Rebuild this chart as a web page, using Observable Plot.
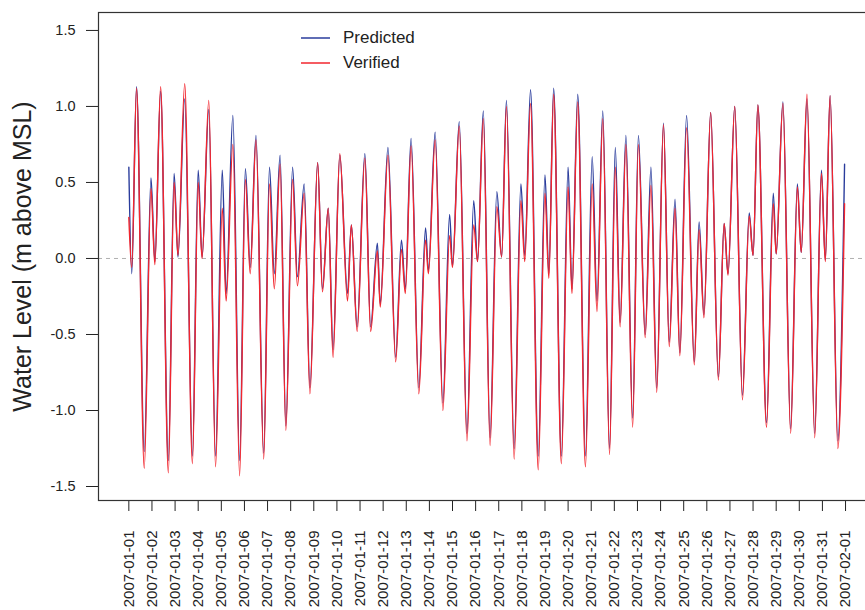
<!DOCTYPE html>
<html>
<head>
<meta charset="utf-8">
<script src="https://cdn.jsdelivr.net/npm/d3@7"></script>
<script src="https://cdn.jsdelivr.net/npm/@observablehq/plot@0.6"></script>
<style>
  html, body { margin: 0; padding: 0; background: #fff; overflow: hidden; }
  #wrap { position: relative; width: 865px; height: 610px; overflow: hidden; font-family: "Liberation Sans", Arial, sans-serif; }
  #chart svg { max-width: none !important; }
  #chart [aria-label="x-axis tick label"] { font-size: 15px; }
  #chart [aria-label="y-axis tick label"] { font-size: 14.5px; }
  #legend { position: absolute; left: 300px; top: 25px; font-size: 17px; color: #222; }
  #legend div { display: flex; align-items: center; height: 25px; }
  #legend svg { margin-right: 13px; }
</style>
</head>
<body>
<div id="wrap">
  <div id="chart"></div>
  <div id="legend"></div>
</div>
<script>
// Hours after 2007-01-01 00:00 UTC of each turning point
const hours = [0,3,8,16,23,27,33,41,47,51,58,66,72,76,83,90,97,101,108,115,121,126,132,140,146,151,157,163,170,175,182,188,196,201,207,212,219,227,231,237,245,251,258,261,269,277,283,287,293,301,308,311,318,326,333,336,343,351,358,362,368,375,382,387,392,400,407,411,417,425,432,436,441,449,456,460,466,474,481,486,492,499,505,510,516,523,529,536,542,548,555,561,567,572,579,587,592,597,604,612,618,622,629,637,644,648,653,662,669,672,679,687,694,698,704,712,719,723,728,736,743];
const predicted = [0.60,-0.10,1.13,-1.27,0.53,-0.02,1.10,-1.33,0.56,0.01,1.05,-1.30,0.58,0.01,0.98,-1.30,0.58,-0.23,0.94,-1.33,0.59,-0.06,0.81,-1.28,0.60,-0.10,0.68,-1.10,0.60,-0.12,0.49,-0.85,0.63,-0.20,0.33,-0.60,0.68,-0.23,0.22,-0.45,0.69,-0.45,0.10,-0.30,0.73,-0.65,0.12,-0.20,0.79,-0.85,0.20,-0.08,0.83,-0.95,0.29,-0.05,0.90,-1.15,0.38,-0.02,0.97,-1.18,0.44,0.01,1.04,-1.25,0.49,0.02,1.11,-1.30,0.55,-0.10,1.12,-1.30,0.60,-0.20,1.08,-1.30,0.67,-0.28,0.97,-1.25,0.73,-0.42,0.81,-1.05,0.81,-0.50,0.60,-0.85,0.89,-0.55,0.39,-0.62,0.94,-0.68,0.24,-0.37,0.96,-0.78,0.23,-0.10,1.00,-0.90,0.30,0.02,1.01,-1.08,0.43,0.03,1.03,-1.12,0.49,0.04,1.05,-1.15,0.58,-0.01,1.07,-1.20,0.62];
const verified = [0.27,-0.06,1.12,-1.38,0.46,-0.04,1.13,-1.41,0.50,0.02,1.15,-1.35,0.50,0.00,1.04,-1.37,0.33,-0.28,0.75,-1.43,0.52,-0.10,0.78,-1.32,0.49,-0.20,0.62,-1.13,0.52,-0.18,0.43,-0.89,0.63,-0.22,0.33,-0.65,0.69,-0.28,0.22,-0.48,0.66,-0.48,0.05,-0.32,0.68,-0.68,0.06,-0.23,0.74,-0.89,0.12,-0.10,0.78,-1.00,0.15,-0.06,0.87,-1.20,0.22,-0.02,0.92,-1.23,0.34,0.01,1.00,-1.32,0.38,-0.02,1.02,-1.39,0.43,-0.13,1.08,-1.35,0.47,-0.23,1.03,-1.37,0.49,-0.35,0.92,-1.29,0.60,-0.45,0.75,-1.11,0.75,-0.52,0.48,-0.88,0.88,-0.58,0.33,-0.64,0.86,-0.70,0.19,-0.39,0.96,-0.80,0.23,-0.11,1.00,-0.93,0.28,0.02,1.01,-1.11,0.36,0.03,1.02,-1.15,0.47,0.04,1.08,-1.18,0.56,-0.02,1.07,-1.25,0.36];
const yTicks = [-1.5,-1.0,-0.5,0.0,0.5,1.0,1.5];
const seriesNames = ["Predicted", "Verified"];
const seriesColors = ["#2a3c9c", "#f2262e"];

const t0 = Date.UTC(2007, 0, 1);
const toDate = h => new Date(t0 + h * 3600e3);
const rows = hours.map((h, i) => ({date: toDate(h), pred: predicted[i], ver: verified[i]}));
const dayTicks = d3.utcDays(new Date(t0), new Date(Date.UTC(2007, 1, 2)));
const fmtDay = d3.utcFormat("%Y-%m-%d");

const chart = Plot.plot({
  width: 880,
  height: 610,
  marginLeft: 98,
  marginRight: 0,
  marginTop: 12,
  marginBottom: 110,
  style: {fontFamily: "Liberation Sans, Arial, sans-serif", fontSize: "14px", color: "#222", background: "#fff", maxWidth: "none"},
  x: {type: "utc", domain: [toDate(-31.5), toDate(780.3)], ticks: dayTicks, tickFormat: fmtDay,
      tickRotate: -90, tickSize: 11, tickPadding: 19, label: null},
  y: {domain: [-1.592, 1.618], ticks: yTicks, tickFormat: d => d.toFixed(1), tickSize: 12, tickPadding: 11, label: null},
  marks: [
    Plot.ruleY([0], {stroke: "#b0b0b0", strokeDasharray: "4,4"}),
    Plot.line(rows, {x: "date", y: "pred", stroke: seriesColors[0], strokeWidth: 1.4, curve: "monotone-x"}),
    Plot.line(rows, {x: "date", y: "ver", stroke: seriesColors[1], strokeWidth: 1.4, curve: "monotone-x"}),
    Plot.frame({stroke: "#333", strokeWidth: 1.2}),
    Plot.text(["Water Level (m above MSL)"], {frameAnchor: "left", textAnchor: "middle", rotate: -90, dx: -76, fontSize: 25, fill: "#222"})
  ]
});
document.getElementById("chart").appendChild(chart);

const legend = document.getElementById("legend");
seriesNames.forEach((name, i) => {
  const row = document.createElement("div");
  row.innerHTML = `<svg width="30" height="4"><line x1="1" x2="30" y1="2" y2="2" stroke="${seriesColors[i]}" stroke-width="1.5"/></svg><span>${name}</span>`;
  legend.appendChild(row);
});
</script>
</body>
</html>
